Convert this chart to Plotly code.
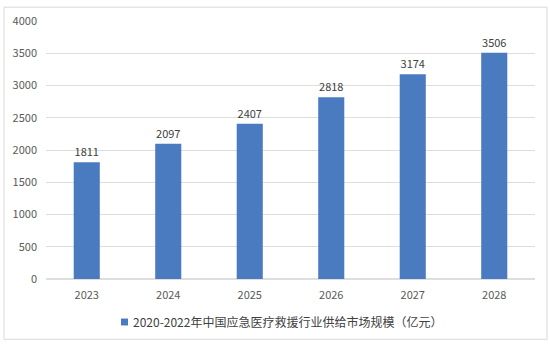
import plotly.graph_objects as go

years = ["2023", "2024", "2025", "2026", "2027", "2028"]
values = [1811, 2097, 2407, 2818, 3174, 3506]
series_name = "2020-2022年中国应急医疗救援行业供给市场规模（亿元）"

font_family = "Microsoft YaHei, Noto Sans CJK SC, sans-serif"
bar_color = "#4A7BC0"

fig = go.Figure()
fig.add_trace(go.Bar(
    x=years, y=values, name=series_name,
    marker=dict(color=bar_color, line=dict(width=0)),
    text=[str(v) for v in values], textposition="outside",
    textfont=dict(size=11, color="#404040", family=font_family),
    cliponaxis=False,
    width=0.32,
    showlegend=False,
))

L, R, T, B = 46, 15, 18, 65
pw, ph = 550 - L - R, 344 - T - B

def px(x):
    return (x - L) / pw

def py(y):
    return (344 - B - y) / ph

fig.add_shape(type="rect", xref="paper", yref="paper",
              x0=px(4), x1=px(547), y0=py(340), y1=py(4),
              line=dict(color="#D9D9D9", width=1), layer="below")

# legend (manual)
fig.add_shape(type="rect", xref="paper", yref="paper",
              x0=px(121), x1=px(128), y0=py(326), y1=py(319),
              fillcolor=bar_color, line=dict(width=0))
fig.add_annotation(xref="paper", yref="paper", x=px(131), y=py(322),
                   xanchor="left", yanchor="middle", showarrow=False,
                   text=series_name, font=dict(size=12, color="#404040", family=font_family))

fig.update_layout(
    width=550, height=344,
    margin=dict(l=L, r=R, t=T, b=B),
    paper_bgcolor="white", plot_bgcolor="white",
    font=dict(family=font_family, size=11, color="#595959"),
    showlegend=False,
    bargap=0.68,
    xaxis=dict(showgrid=False, showline=False, ticks="", tickfont=dict(size=11, color="#595959"),
               ticklabelstandoff=8),
    yaxis=dict(range=[0, 4000], dtick=500, showgrid=True, gridcolor="#DEDEDE", gridwidth=1,
               zeroline=True, zerolinecolor="#DEDEDE", showline=False, ticks="",
               tickfont=dict(size=11, color="#595959"), ticklabelstandoff=8),
)

fig.write_html("out.html")
